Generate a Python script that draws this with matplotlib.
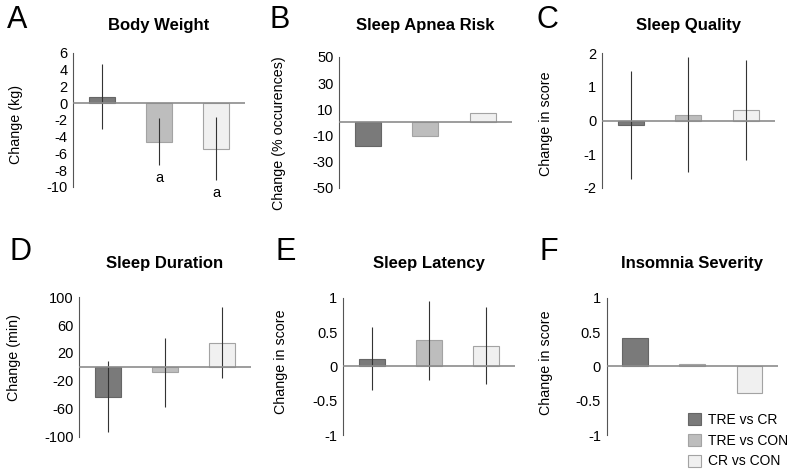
import numpy as np
import matplotlib
matplotlib.use('Agg')
import matplotlib.pyplot as plt
from matplotlib.patches import Patch

plt.rcParams['font.family'] = ['Liberation Sans', 'DejaVu Sans']

groups = ['TRE vs CR', 'TRE vs CON', 'CR vs CON']
colors = ['#7a7a7a', '#bdbdbd', '#f0f0f0']
edges = ['#666666', '#a3a3a3', '#a3a3a3']

# change values and error bars (None = no error bars)
body_weight = [0.8, -4.6, -5.45]
body_weight_err = [3.9, 2.8, 3.75]
apnea_risk = [-17.8, -10.4, 7.4]
sleep_quality = [-0.14, 0.18, 0.31]
sleep_quality_err = [1.6, 1.72, 1.48]
sleep_duration = [-42.6, -8.0, 34.5]
sleep_duration_err = [50.7, 50.0, 51.0]
sleep_latency = [0.11, 0.385, 0.305]
sleep_latency_err = [0.46, 0.575, 0.565]
insomnia = [0.41, 0.034, -0.39]

panels = [
    # letter, title, ylabel, values, err, ylim, yticks, axes rect, label x/y, letter x px
    ('A', 'Body Weight', 'Change (kg)', body_weight, body_weight_err,
     (-10, 6), [6, 4, 2, 0, -2, -4, -6, -8, -10], [0.092, 0.603, 0.217, 0.2845], (-0.29, 0.47), 7),
    ('B', 'Sleep Apnea Risk', 'Change (% occurences)', apnea_risk, None,
     (-50, 50), [50, 30, 10, -10, -30, -50], [0.4275, 0.601, 0.218, 0.278], (-0.306, 0.42), 270),
    ('C', 'Sleep Quality', 'Change in score', sleep_quality, sleep_quality_err,
     (-2, 2), [2, 1, 0, -1, -2], [0.759, 0.601, 0.218, 0.286], (-0.283, 0.48), 537),
    ('D', 'Sleep Duration', 'Change (min)', sleep_duration, sleep_duration_err,
     (-100, 100), [100, 60, 20, -20, -60, -100], [0.0996, 0.073, 0.217, 0.296], (-0.337, 0.565), 10),
    ('E', 'Sleep Latency', 'Change in score', sleep_latency, sleep_latency_err,
     (-1, 1), [1, 0.5, 0, -0.5, -1], [0.4325, 0.0764, 0.217, 0.291], (-0.32, 0.535), 275),
    ('F', 'Insomnia Severity', 'Change in score', insomnia, None,
     (-1, 1), [1, 0.5, 0, -0.5, -1], [0.765, 0.0764, 0.216, 0.291], (-0.316, 0.53), 540),
]

fig = plt.figure(figsize=(7.93, 4.71), dpi=100)
x = np.arange(3)
title_font = ['Liberation Sans Narrow', 'Liberation Sans']

for i, (letter, title, ylabel, vals, err, ylim, yticks, rect, lab, lx) in enumerate(panels):
    ax = fig.add_axes(rect)
    ax.bar(x, vals, width=0.45, color=colors, edgecolor=edges, linewidth=0.8, zorder=2)
    if err is not None:
        ax.errorbar(x, vals, yerr=err, fmt='none', ecolor='#333333',
                    elinewidth=0.8, capsize=0, zorder=3)
    ax.axhline(0, color='#8c8c8c', linewidth=1.2, zorder=4)
    ax.set_xlim(-0.5, 2.5)
    ax.set_ylim(*ylim)
    ax.set_yticks(yticks)
    ax.set_yticklabels([('%g' % t) for t in yticks])
    ax.set_xticks([])
    for s in ['top', 'right', 'bottom']:
        ax.spines[s].set_visible(False)
    ax.spines['left'].set_color('#555555')
    ax.spines['left'].set_linewidth(0.8)
    ax.tick_params(axis='y', length=0, labelsize=10.5, pad=4)
    ax.set_ylabel(ylabel, fontsize=10.3)
    ax.yaxis.set_label_coords(*lab)

    top_row = i < 3
    bb = ax.get_position()
    ty = 0.945 if top_row else 0.4395
    fig.text((bb.x0 + bb.x1) / 2, ty, title, fontsize=12, fontweight='bold',
             ha='center', va='center', family=title_font)
    ly = 0.957 if top_row else 0.465
    fig.text(lx / 793, ly, letter, fontsize=22, va='center', ha='left')
    if letter == 'A':
        for j in [1, 2]:
            ax.text(x[j], vals[j] - err[j] - 1.5, 'a', ha='center', va='center',
                    fontsize=10.5, clip_on=False)

handles = [Patch(facecolor=c, edgecolor=e, linewidth=0.8) for c, e in zip(colors, edges)]
fig.legend(handles, groups, loc='upper left', bbox_to_anchor=(0.867, 0.124),
           frameon=False, fontsize=10, handlelength=1.0, handleheight=1.0,
           handletextpad=0.5, labelspacing=0.5, borderpad=0, borderaxespad=0)

fig.savefig('out.png', dpi=100)
